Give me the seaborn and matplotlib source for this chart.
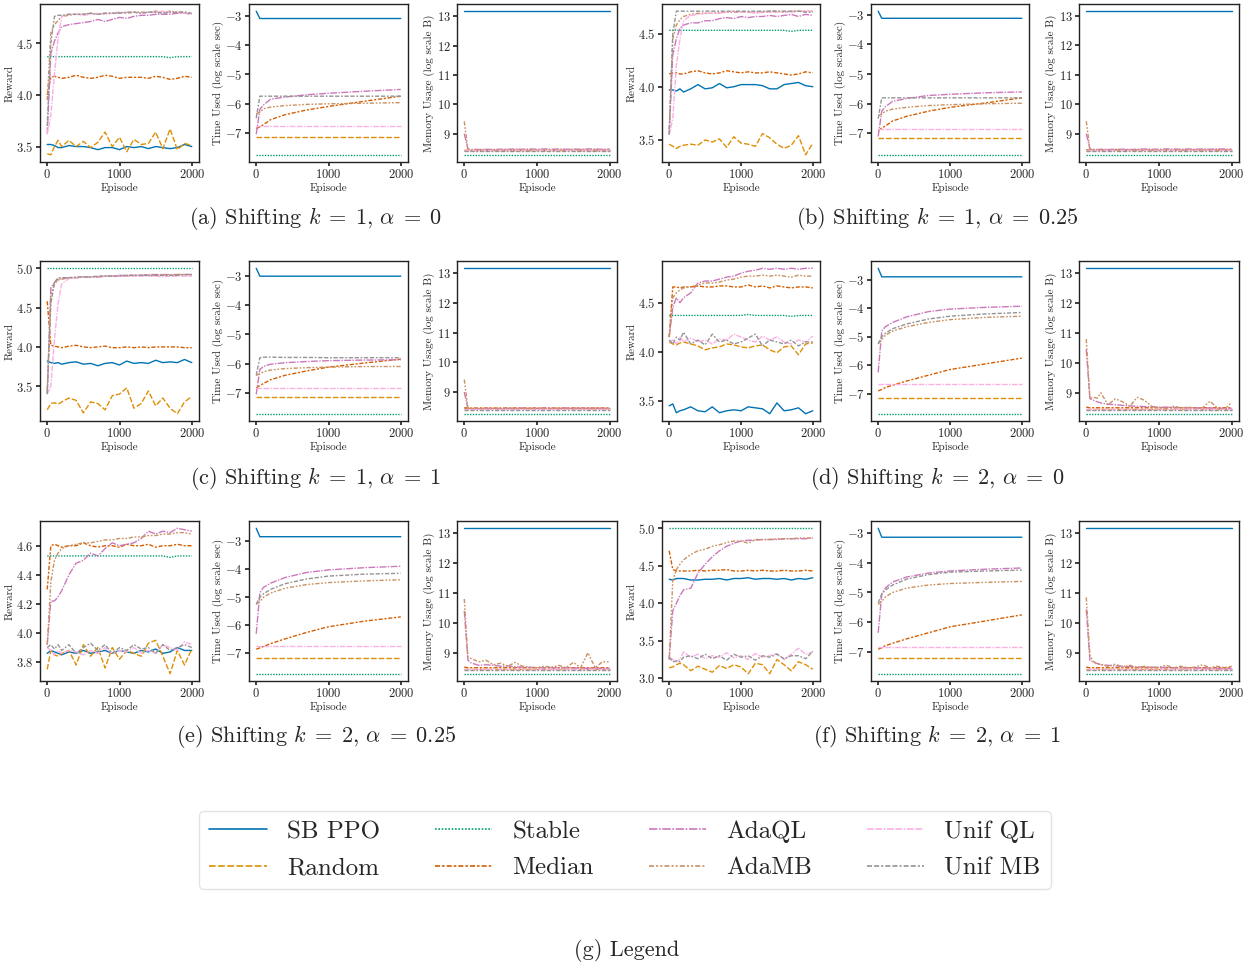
import matplotlib as mpl
import matplotlib.pyplot as plt
import pandas as pd
import seaborn as sns
from matplotlib.ticker import MultipleLocator

# ---------------------------------------------------------------------------
# style: seaborn ticks + Computer Modern look (cmr10 ships with matplotlib)
# ---------------------------------------------------------------------------
sns.set_theme(style="ticks")
mpl.rcParams.update({
    "font.family": "serif",
    "font.serif": ["cmr10", "DejaVu Serif"],
    "mathtext.fontset": "cm",
    "axes.formatter.use_mathtext": True,
    "xtick.labelsize": 9,
    "ytick.labelsize": 9,
    "axes.labelsize": 8,
    "axes.labelpad": 1.0,
    "axes.linewidth": 1.0,
    "xtick.major.size": 3,
    "ytick.major.size": 3,
    "xtick.major.pad": 1.5,
    "ytick.major.pad": 1.5,
})

METHODS = ["SB PPO", "Random", "Stable", "Median", "AdaQL", "AdaMB", "Unif QL", "Unif MB"]
PALETTE = sns.color_palette("colorblind", n_colors=len(METHODS))

EPISODES = [0, 50, 100, 150, 200, 300, 400, 500, 600, 700, 800, 900, 1000,
            1100, 1200, 1300, 1400, 1500, 1600, 1700, 1800, 1900, 2000]
EPISODES_TIME = [0, 50, 100, 200, 400, 700, 1000, 1500, 2000]

# ---------------------------------------------------------------------------
# reward curves
# ---------------------------------------------------------------------------
REWARD_A = {
    "SB PPO": [3.52, 3.52, 3.51, 3.49, 3.49, 3.51, 3.50, 3.50, 3.49, 3.47, 3.49, 3.49, 3.47, 3.50, 3.49, 3.50, 3.48, 3.50, 3.49, 3.48, 3.49, 3.52, 3.50],
    "Random": [3.43, 3.42, 3.50, 3.56, 3.50, 3.56, 3.50, 3.55, 3.49, 3.54, 3.64, 3.50, 3.59, 3.45, 3.57, 3.52, 3.53, 3.64, 3.48, 3.67, 3.47, 3.53, 3.51],
    "Stable": [4.37, 4.37, 4.37, 4.37, 4.37, 4.37, 4.37, 4.37, 4.37, 4.37, 4.37, 4.37, 4.37, 4.37, 4.37, 4.37, 4.37, 4.37, 4.37, 4.36, 4.37, 4.37, 4.37],
    "Median": [4.00, 4.17, 4.18, 4.17, 4.16, 4.17, 4.19, 4.17, 4.16, 4.17, 4.19, 4.18, 4.16, 4.17, 4.17, 4.17, 4.16, 4.18, 4.17, 4.15, 4.16, 4.18, 4.17],
    "AdaQL": [3.62, 4.40, 4.52, 4.60, 4.66, 4.68, 4.69, 4.70, 4.71, 4.73, 4.71, 4.73, 4.75, 4.74, 4.76, 4.77, 4.77, 4.78, 4.78, 4.78, 4.79, 4.79, 4.78],
    "AdaMB": [3.95, 4.60, 4.68, 4.72, 4.76, 4.77, 4.78, 4.78, 4.79, 4.78, 4.79, 4.79, 4.80, 4.79, 4.80, 4.80, 4.80, 4.81, 4.80, 4.81, 4.80, 4.80, 4.79],
    "Unif QL": [3.62, 3.80, 4.20, 4.55, 4.76, 4.78, 4.78, 4.77, 4.78, 4.79, 4.78, 4.79, 4.79, 4.80, 4.80, 4.79, 4.80, 4.80, 4.81, 4.80, 4.80, 4.79, 4.79],
    "Unif MB": [3.70, 4.50, 4.76, 4.77, 4.77, 4.78, 4.78, 4.78, 4.79, 4.78, 4.79, 4.79, 4.79, 4.80, 4.80, 4.79, 4.80, 4.80, 4.79, 4.80, 4.80, 4.80, 4.79],
}
REWARD_B = {
    "SB PPO": [3.97, 3.97, 3.96, 3.98, 3.95, 3.98, 4.02, 3.98, 3.99, 4.03, 3.99, 4.00, 4.02, 4.02, 4.02, 4.01, 3.98, 3.98, 4.02, 4.03, 4.04, 4.01, 4.00],
    "Random": [3.46, 3.44, 3.42, 3.44, 3.45, 3.46, 3.45, 3.50, 3.48, 3.51, 3.43, 3.53, 3.47, 3.46, 3.44, 3.56, 3.52, 3.46, 3.42, 3.45, 3.54, 3.36, 3.47],
    "Stable": [4.53, 4.53, 4.53, 4.53, 4.53, 4.53, 4.53, 4.53, 4.53, 4.53, 4.53, 4.53, 4.53, 4.53, 4.53, 4.53, 4.53, 4.53, 4.53, 4.52, 4.53, 4.53, 4.53],
    "Median": [4.12, 4.13, 4.13, 4.12, 4.12, 4.14, 4.15, 4.13, 4.12, 4.13, 4.15, 4.14, 4.13, 4.14, 4.13, 4.13, 4.14, 4.13, 4.12, 4.11, 4.12, 4.14, 4.13],
    "AdaQL": [3.55, 4.30, 4.45, 4.55, 4.58, 4.60, 4.60, 4.62, 4.62, 4.64, 4.65, 4.64, 4.66, 4.65, 4.66, 4.66, 4.67, 4.66, 4.67, 4.68, 4.66, 4.68, 4.67],
    "AdaMB": [3.60, 4.45, 4.58, 4.63, 4.66, 4.68, 4.69, 4.69, 4.69, 4.70, 4.70, 4.70, 4.70, 4.70, 4.70, 4.70, 4.71, 4.71, 4.70, 4.71, 4.71, 4.71, 4.71],
    "Unif QL": [3.55, 3.70, 4.20, 4.45, 4.62, 4.67, 4.68, 4.69, 4.69, 4.69, 4.70, 4.71, 4.70, 4.70, 4.69, 4.70, 4.70, 4.70, 4.71, 4.70, 4.71, 4.71, 4.71],
    "Unif MB": [3.55, 4.50, 4.71, 4.71, 4.71, 4.71, 4.71, 4.71, 4.71, 4.71, 4.71, 4.71, 4.71, 4.71, 4.71, 4.71, 4.71, 4.71, 4.71, 4.71, 4.71, 4.70, 4.70],
}
REWARD_C = {
    "SB PPO": [3.82, 3.80, 3.79, 3.80, 3.78, 3.80, 3.81, 3.78, 3.79, 3.76, 3.79, 3.80, 3.77, 3.82, 3.79, 3.80, 3.79, 3.83, 3.80, 3.81, 3.80, 3.84, 3.80],
    "Random": [3.20, 3.28, 3.29, 3.27, 3.30, 3.35, 3.32, 3.16, 3.30, 3.28, 3.20, 3.38, 3.40, 3.48, 3.22, 3.28, 3.44, 3.25, 3.35, 3.22, 3.15, 3.30, 3.37],
    "Stable": [5.00, 5.00, 5.00, 5.00, 5.00, 5.00, 5.00, 5.00, 5.00, 5.00, 5.00, 5.00, 5.00, 5.00, 5.00, 5.00, 5.00, 5.00, 5.00, 5.00, 5.00, 5.00, 5.00],
    "Median": [4.58, 4.02, 4.01, 4.00, 3.99, 4.01, 4.02, 4.00, 3.99, 4.00, 4.01, 3.99, 3.99, 4.00, 3.99, 4.00, 3.99, 4.00, 4.00, 4.00, 4.00, 3.99, 3.99],
    "AdaQL": [3.40, 4.75, 4.82, 4.86, 4.87, 4.88, 4.88, 4.89, 4.89, 4.89, 4.90, 4.90, 4.91, 4.91, 4.91, 4.91, 4.92, 4.92, 4.92, 4.92, 4.92, 4.92, 4.92],
    "AdaMB": [3.45, 4.65, 4.80, 4.85, 4.86, 4.88, 4.88, 4.89, 4.89, 4.89, 4.90, 4.90, 4.90, 4.90, 4.91, 4.91, 4.91, 4.91, 4.92, 4.91, 4.92, 4.92, 4.92],
    "Unif QL": [3.40, 3.50, 4.10, 4.55, 4.80, 4.87, 4.88, 4.89, 4.89, 4.89, 4.90, 4.90, 4.90, 4.90, 4.90, 4.90, 4.90, 4.90, 4.89, 4.90, 4.90, 4.90, 4.90],
    "Unif MB": [3.40, 4.55, 4.82, 4.88, 4.88, 4.88, 4.89, 4.89, 4.89, 4.90, 4.90, 4.90, 4.90, 4.91, 4.91, 4.91, 4.91, 4.91, 4.91, 4.91, 4.91, 4.92, 4.92],
}
REWARD_D = {
    "SB PPO": [3.45, 3.47, 3.38, 3.40, 3.41, 3.44, 3.40, 3.39, 3.44, 3.38, 3.40, 3.41, 3.40, 3.44, 3.43, 3.42, 3.37, 3.48, 3.40, 3.41, 3.43, 3.37, 3.40],
    "Random": [4.10, 4.08, 4.07, 4.09, 4.10, 4.08, 4.06, 4.02, 4.04, 4.05, 4.08, 4.07, 4.05, 4.04, 4.06, 4.07, 4.02, 3.99, 4.05, 4.06, 3.97, 4.08, 4.09],
    "Stable": [4.37, 4.37, 4.37, 4.37, 4.37, 4.37, 4.37, 4.37, 4.37, 4.37, 4.37, 4.37, 4.37, 4.38, 4.37, 4.37, 4.37, 4.37, 4.37, 4.36, 4.37, 4.37, 4.37],
    "Median": [4.15, 4.66, 4.66, 4.65, 4.66, 4.66, 4.67, 4.66, 4.66, 4.67, 4.67, 4.66, 4.66, 4.68, 4.66, 4.67, 4.65, 4.67, 4.66, 4.65, 4.66, 4.66, 4.65],
    "AdaQL": [4.15, 4.45, 4.55, 4.50, 4.55, 4.60, 4.70, 4.72, 4.72, 4.74, 4.76, 4.77, 4.80, 4.82, 4.83, 4.85, 4.84, 4.85, 4.84, 4.85, 4.84, 4.85, 4.85],
    "AdaMB": [4.15, 4.55, 4.60, 4.63, 4.65, 4.66, 4.68, 4.70, 4.70, 4.71, 4.73, 4.74, 4.76, 4.77, 4.77, 4.78, 4.77, 4.78, 4.77, 4.76, 4.78, 4.77, 4.77],
    "Unif QL": [4.10, 4.12, 4.08, 4.15, 4.10, 4.14, 4.10, 4.12, 4.08, 4.13, 4.12, 4.18, 4.15, 4.12, 4.10, 4.16, 4.12, 4.15, 4.10, 4.08, 4.12, 4.10, 4.16],
    "Unif MB": [4.12, 4.08, 4.15, 4.12, 4.20, 4.08, 4.12, 4.07, 4.18, 4.10, 4.12, 4.08, 4.10, 4.14, 4.18, 4.06, 4.12, 4.10, 4.08, 4.12, 4.06, 4.10, 4.10],
}
REWARD_E = {
    "SB PPO": [3.86, 3.88, 3.87, 3.86, 3.85, 3.87, 3.86, 3.88, 3.86, 3.87, 3.88, 3.86, 3.88, 3.87, 3.86, 3.88, 3.87, 3.89, 3.86, 3.87, 3.90, 3.88, 3.88],
    "Random": [3.75, 3.88, 3.85, 3.84, 3.86, 3.88, 3.78, 3.92, 3.84, 3.90, 3.76, 3.90, 3.82, 3.88, 3.86, 3.84, 3.93, 3.95, 3.84, 3.72, 3.88, 3.78, 3.89],
    "Stable": [4.53, 4.53, 4.53, 4.53, 4.53, 4.53, 4.53, 4.53, 4.53, 4.53, 4.53, 4.53, 4.53, 4.53, 4.53, 4.53, 4.53, 4.53, 4.53, 4.52, 4.53, 4.53, 4.53],
    "Median": [4.30, 4.60, 4.61, 4.60, 4.59, 4.60, 4.60, 4.62, 4.60, 4.59, 4.60, 4.60, 4.59, 4.61, 4.60, 4.60, 4.61, 4.59, 4.60, 4.60, 4.61, 4.60, 4.60],
    "AdaQL": [3.92, 4.22, 4.22, 4.25, 4.29, 4.40, 4.48, 4.50, 4.55, 4.53, 4.58, 4.62, 4.60, 4.61, 4.62, 4.65, 4.70, 4.68, 4.70, 4.69, 4.72, 4.71, 4.70],
    "AdaMB": [3.92, 4.35, 4.50, 4.55, 4.58, 4.60, 4.61, 4.62, 4.62, 4.63, 4.64, 4.64, 4.65, 4.65, 4.66, 4.66, 4.67, 4.67, 4.68, 4.68, 4.69, 4.69, 4.68],
    "Unif QL": [3.90, 3.88, 3.85, 3.88, 3.86, 3.88, 3.87, 3.85, 3.88, 3.86, 3.90, 3.86, 3.88, 3.87, 3.90, 3.86, 3.88, 3.86, 3.92, 3.90, 3.88, 3.94, 3.92],
    "Unif MB": [3.90, 3.92, 3.89, 3.92, 3.88, 3.92, 3.86, 3.90, 3.93, 3.88, 3.92, 3.86, 3.90, 3.88, 3.92, 3.89, 3.90, 3.86, 3.92, 3.88, 3.90, 3.92, 3.90],
}
REWARD_F = {
    "SB PPO": [4.32, 4.31, 4.33, 4.33, 4.33, 4.31, 4.31, 4.32, 4.32, 4.33, 4.31, 4.33, 4.33, 4.34, 4.32, 4.33, 4.33, 4.32, 4.33, 4.31, 4.33, 4.32, 4.34],
    "Random": [3.14, 3.15, 3.18, 3.20, 3.18, 3.10, 3.16, 3.12, 3.08, 3.17, 3.13, 3.18, 3.15, 3.06, 3.20, 3.18, 3.06, 3.25, 3.18, 3.10, 3.22, 3.18, 3.12],
    "Stable": [5.00, 5.00, 5.00, 5.00, 5.00, 5.00, 5.00, 5.00, 5.00, 5.00, 5.00, 5.00, 5.00, 5.00, 5.00, 5.00, 5.00, 5.00, 5.00, 5.00, 5.00, 5.00, 5.00],
    "Median": [4.70, 4.45, 4.43, 4.43, 4.43, 4.43, 4.44, 4.43, 4.44, 4.44, 4.45, 4.43, 4.43, 4.44, 4.43, 4.44, 4.43, 4.43, 4.44, 4.43, 4.43, 4.44, 4.43],
    "AdaQL": [3.25, 3.90, 4.00, 4.10, 4.18, 4.20, 4.40, 4.52, 4.62, 4.70, 4.76, 4.80, 4.83, 4.84, 4.84, 4.85, 4.85, 4.85, 4.86, 4.86, 4.86, 4.86, 4.87],
    "AdaMB": [3.25, 4.30, 4.45, 4.52, 4.58, 4.65, 4.70, 4.72, 4.76, 4.78, 4.81, 4.83, 4.83, 4.80, 4.85, 4.85, 4.85, 4.86, 4.86, 4.86, 4.87, 4.87, 4.87],
    "Unif QL": [3.28, 3.25, 3.22, 3.25, 3.35, 3.28, 3.32, 3.26, 3.30, 3.28, 3.34, 3.27, 3.30, 3.25, 3.33, 3.28, 3.30, 3.33, 3.25, 3.32, 3.40, 3.32, 3.35],
    "Unif MB": [3.28, 3.22, 3.23, 3.22, 3.28, 3.30, 3.26, 3.32, 3.26, 3.30, 3.24, 3.32, 3.28, 3.30, 3.24, 3.30, 3.28, 3.32, 3.26, 3.30, 3.30, 3.26, 3.36],
}

# ---------------------------------------------------------------------------
# time used, log scale sec (EPISODES_TIME grid)
# ---------------------------------------------------------------------------
TIME_A = {
    "SB PPO": [-2.85, -3.10, -3.10, -3.10, -3.10, -3.10, -3.10, -3.10, -3.10],
    "Random": [-7.15, -7.15, -7.15, -7.15, -7.15, -7.15, -7.15, -7.15, -7.15],
    "Stable": [-7.75, -7.75, -7.75, -7.75, -7.75, -7.75, -7.75, -7.75, -7.75],
    "Median": [-6.85, -6.80, -6.72, -6.55, -6.38, -6.22, -6.10, -5.92, -5.75],
    "AdaQL": [-7.05, -6.20, -6.05, -5.85, -5.78, -5.70, -5.65, -5.58, -5.52],
    "AdaMB": [-6.35, -6.30, -6.18, -6.12, -6.07, -6.03, -6.01, -5.99, -5.97],
    "Unif QL": [-6.78, -6.78, -6.78, -6.78, -6.78, -6.78, -6.78, -6.78, -6.78],
    "Unif MB": [-6.50, -5.75, -5.75, -5.75, -5.75, -5.75, -5.75, -5.75, -5.75],
}
TIME_B = {
    "SB PPO": [-2.88, -3.12, -3.12, -3.12, -3.12, -3.12, -3.12, -3.12, -3.12],
    "Random": [-7.15, -7.15, -7.15, -7.15, -7.15, -7.15, -7.15, -7.15, -7.15],
    "Stable": [-7.72, -7.72, -7.72, -7.72, -7.72, -7.72, -7.72, -7.72, -7.72],
    "Median": [-6.90, -6.82, -6.75, -6.58, -6.42, -6.25, -6.12, -5.97, -5.80],
    "AdaQL": [-7.10, -6.25, -6.10, -5.92, -5.82, -5.72, -5.68, -5.63, -5.60],
    "AdaMB": [-6.40, -6.35, -6.25, -6.18, -6.12, -6.06, -6.03, -6.00, -5.98],
    "Unif QL": [-6.85, -6.85, -6.85, -6.85, -6.85, -6.85, -6.85, -6.85, -6.85],
    "Unif MB": [-6.50, -5.80, -5.80, -5.80, -5.80, -5.80, -5.80, -5.80, -5.80],
}
TIME_C = {
    "SB PPO": [-2.75, -3.02, -3.02, -3.02, -3.02, -3.02, -3.02, -3.02, -3.02],
    "Random": [-7.14, -7.14, -7.14, -7.14, -7.14, -7.14, -7.14, -7.14, -7.14],
    "Stable": [-7.71, -7.71, -7.71, -7.71, -7.71, -7.71, -7.71, -7.71, -7.71],
    "Median": [-6.83, -6.75, -6.68, -6.55, -6.40, -6.25, -6.12, -5.98, -5.85],
    "AdaQL": [-7.05, -6.20, -6.10, -6.02, -5.97, -5.93, -5.90, -5.88, -5.87],
    "AdaMB": [-6.40, -6.35, -6.28, -6.22, -6.17, -6.14, -6.12, -6.10, -6.10],
    "Unif QL": [-6.82, -6.82, -6.82, -6.82, -6.82, -6.82, -6.82, -6.82, -6.82],
    "Unif MB": [-6.40, -5.80, -5.78, -5.78, -5.79, -5.79, -5.80, -5.80, -5.80],
}
TIME_D = {
    "SB PPO": [-2.60, -2.90, -2.90, -2.90, -2.90, -2.90, -2.90, -2.90, -2.90],
    "Random": [-7.15, -7.15, -7.15, -7.15, -7.15, -7.15, -7.15, -7.15, -7.15],
    "Stable": [-7.70, -7.70, -7.70, -7.70, -7.70, -7.70, -7.70, -7.70, -7.70],
    "Median": [-6.90, -6.85, -6.78, -6.70, -6.55, -6.35, -6.15, -5.95, -5.75],
    "AdaQL": [-6.25, -4.80, -4.65, -4.50, -4.30, -4.12, -4.03, -3.97, -3.93],
    "AdaMB": [-5.25, -5.10, -4.95, -4.80, -4.65, -4.50, -4.40, -4.32, -4.28],
    "Unif QL": [-6.65, -6.65, -6.65, -6.65, -6.65, -6.65, -6.65, -6.65, -6.65],
    "Unif MB": [-5.25, -5.00, -4.88, -4.72, -4.55, -4.38, -4.28, -4.20, -4.15],
}
TIME_E = {
    "SB PPO": [-2.55, -2.85, -2.85, -2.85, -2.85, -2.85, -2.85, -2.85, -2.85],
    "Random": [-7.15, -7.15, -7.15, -7.15, -7.15, -7.15, -7.15, -7.15, -7.15],
    "Stable": [-7.72, -7.72, -7.72, -7.72, -7.72, -7.72, -7.72, -7.72, -7.72],
    "Median": [-6.85, -6.80, -6.75, -6.65, -6.48, -6.25, -6.05, -5.85, -5.70],
    "AdaQL": [-6.30, -4.85, -4.65, -4.50, -4.30, -4.12, -4.03, -3.95, -3.90],
    "AdaMB": [-5.25, -5.15, -5.00, -4.85, -4.68, -4.55, -4.48, -4.42, -4.38],
    "Unif QL": [-6.75, -6.75, -6.75, -6.75, -6.75, -6.75, -6.75, -6.75, -6.75],
    "Unif MB": [-5.25, -5.00, -4.88, -4.72, -4.52, -4.35, -4.25, -4.18, -4.15],
}
TIME_F = {
    "SB PPO": [-2.85, -3.15, -3.15, -3.15, -3.15, -3.15, -3.15, -3.15, -3.15],
    "Random": [-7.18, -7.18, -7.18, -7.18, -7.18, -7.18, -7.18, -7.18, -7.18],
    "Stable": [-7.72, -7.72, -7.72, -7.72, -7.72, -7.72, -7.72, -7.72, -7.72],
    "Median": [-6.90, -6.85, -6.78, -6.70, -6.55, -6.35, -6.15, -5.95, -5.75],
    "AdaQL": [-6.35, -5.05, -4.85, -4.65, -4.48, -4.35, -4.28, -4.22, -4.18],
    "AdaMB": [-5.40, -5.30, -5.15, -5.00, -4.85, -4.75, -4.70, -4.66, -4.63],
    "Unif QL": [-6.82, -6.82, -6.82, -6.82, -6.82, -6.82, -6.82, -6.82, -6.82],
    "Unif MB": [-5.35, -5.05, -4.92, -4.75, -4.55, -4.40, -4.32, -4.28, -4.25],
}

# ---------------------------------------------------------------------------
# memory usage, log scale B (EPISODES grid)
# ---------------------------------------------------------------------------
MEMORY_A = {
    "SB PPO": [13.17, 13.17, 13.17, 13.17, 13.17, 13.17, 13.17, 13.17, 13.17, 13.17, 13.17, 13.17, 13.17, 13.17, 13.17, 13.17, 13.17, 13.17, 13.17, 13.17, 13.17, 13.17, 13.17],
    "Random": [8.45, 8.45, 8.45, 8.45, 8.45, 8.45, 8.45, 8.45, 8.45, 8.45, 8.45, 8.45, 8.45, 8.45, 8.45, 8.45, 8.45, 8.45, 8.45, 8.45, 8.45, 8.45, 8.45],
    "Stable": [8.28, 8.28, 8.28, 8.28, 8.28, 8.28, 8.28, 8.28, 8.28, 8.28, 8.28, 8.28, 8.28, 8.28, 8.28, 8.28, 8.28, 8.28, 8.28, 8.28, 8.28, 8.28, 8.28],
    "Median": [8.44, 8.44, 8.44, 8.44, 8.44, 8.44, 8.44, 8.44, 8.44, 8.44, 8.44, 8.44, 8.44, 8.44, 8.44, 8.44, 8.44, 8.44, 8.44, 8.44, 8.44, 8.44, 8.44],
    "AdaQL": [9.00, 8.47, 8.46, 8.47, 8.46, 8.47, 8.46, 8.47, 8.47, 8.48, 8.47, 8.48, 8.47, 8.48, 8.47, 8.48, 8.47, 8.48, 8.47, 8.48, 8.48, 8.47, 8.48],
    "AdaMB": [9.42, 8.46, 8.45, 8.45, 8.45, 8.45, 8.45, 8.45, 8.45, 8.45, 8.45, 8.45, 8.45, 8.45, 8.45, 8.45, 8.45, 8.45, 8.45, 8.45, 8.45, 8.45, 8.45],
    "Unif QL": [8.45, 8.45, 8.45, 8.45, 8.45, 8.45, 8.45, 8.45, 8.45, 8.45, 8.45, 8.45, 8.45, 8.45, 8.45, 8.45, 8.45, 8.45, 8.45, 8.45, 8.45, 8.45, 8.45],
    "Unif MB": [8.42, 8.42, 8.42, 8.42, 8.42, 8.42, 8.42, 8.42, 8.42, 8.42, 8.42, 8.42, 8.42, 8.42, 8.42, 8.42, 8.42, 8.42, 8.42, 8.42, 8.42, 8.42, 8.42],
}
MEMORY_B = {
    "SB PPO": [13.16, 13.16, 13.16, 13.16, 13.16, 13.16, 13.16, 13.16, 13.16, 13.16, 13.16, 13.16, 13.16, 13.16, 13.16, 13.16, 13.16, 13.16, 13.16, 13.16, 13.16, 13.16, 13.16],
    "Random": [8.45, 8.45, 8.45, 8.45, 8.45, 8.45, 8.45, 8.45, 8.45, 8.45, 8.45, 8.45, 8.45, 8.45, 8.45, 8.45, 8.45, 8.45, 8.45, 8.45, 8.45, 8.45, 8.45],
    "Stable": [8.28, 8.28, 8.28, 8.28, 8.28, 8.28, 8.28, 8.28, 8.28, 8.28, 8.28, 8.28, 8.28, 8.28, 8.28, 8.28, 8.28, 8.28, 8.28, 8.28, 8.28, 8.28, 8.28],
    "Median": [8.45, 8.44, 8.44, 8.44, 8.44, 8.44, 8.44, 8.44, 8.44, 8.44, 8.44, 8.44, 8.44, 8.44, 8.44, 8.44, 8.44, 8.44, 8.44, 8.44, 8.44, 8.44, 8.44],
    "AdaQL": [9.00, 8.47, 8.47, 8.46, 8.47, 8.46, 8.47, 8.47, 8.46, 8.47, 8.48, 8.47, 8.47, 8.48, 8.48, 8.47, 8.48, 8.47, 8.48, 8.47, 8.48, 8.48, 8.47],
    "AdaMB": [9.42, 8.46, 8.45, 8.45, 8.45, 8.45, 8.45, 8.45, 8.45, 8.45, 8.45, 8.45, 8.45, 8.45, 8.45, 8.45, 8.45, 8.45, 8.45, 8.45, 8.45, 8.45, 8.45],
    "Unif QL": [8.45, 8.45, 8.45, 8.45, 8.45, 8.45, 8.45, 8.45, 8.45, 8.45, 8.45, 8.45, 8.45, 8.45, 8.45, 8.45, 8.45, 8.45, 8.45, 8.45, 8.45, 8.45, 8.45],
    "Unif MB": [8.42, 8.42, 8.42, 8.42, 8.42, 8.42, 8.42, 8.42, 8.42, 8.42, 8.42, 8.42, 8.42, 8.42, 8.42, 8.42, 8.42, 8.42, 8.42, 8.42, 8.42, 8.42, 8.42],
}
MEMORY_C = {
    "SB PPO": [13.16, 13.16, 13.16, 13.16, 13.16, 13.16, 13.16, 13.16, 13.16, 13.16, 13.16, 13.16, 13.16, 13.16, 13.16, 13.16, 13.16, 13.16, 13.16, 13.16, 13.16, 13.16, 13.16],
    "Random": [8.45, 8.45, 8.45, 8.45, 8.45, 8.45, 8.45, 8.45, 8.45, 8.45, 8.45, 8.45, 8.45, 8.45, 8.45, 8.45, 8.45, 8.45, 8.45, 8.45, 8.45, 8.45, 8.45],
    "Stable": [8.27, 8.27, 8.27, 8.27, 8.27, 8.27, 8.27, 8.27, 8.27, 8.27, 8.27, 8.27, 8.27, 8.27, 8.27, 8.27, 8.27, 8.27, 8.27, 8.27, 8.27, 8.27, 8.27],
    "Median": [8.47, 8.46, 8.46, 8.46, 8.46, 8.46, 8.46, 8.46, 8.46, 8.46, 8.46, 8.46, 8.46, 8.46, 8.46, 8.46, 8.46, 8.46, 8.46, 8.46, 8.46, 8.46, 8.46],
    "AdaQL": [9.00, 8.45, 8.44, 8.45, 8.44, 8.45, 8.45, 8.44, 8.45, 8.45, 8.46, 8.45, 8.45, 8.46, 8.45, 8.45, 8.46, 8.45, 8.46, 8.45, 8.46, 8.45, 8.45],
    "AdaMB": [9.42, 8.45, 8.44, 8.44, 8.44, 8.44, 8.44, 8.44, 8.44, 8.44, 8.44, 8.44, 8.44, 8.44, 8.44, 8.44, 8.44, 8.44, 8.44, 8.44, 8.44, 8.44, 8.44],
    "Unif QL": [8.44, 8.44, 8.44, 8.44, 8.44, 8.44, 8.44, 8.44, 8.44, 8.44, 8.44, 8.44, 8.44, 8.44, 8.44, 8.44, 8.44, 8.44, 8.44, 8.44, 8.44, 8.44, 8.44],
    "Unif MB": [8.41, 8.41, 8.41, 8.41, 8.41, 8.41, 8.41, 8.41, 8.41, 8.41, 8.41, 8.41, 8.41, 8.41, 8.41, 8.41, 8.41, 8.41, 8.41, 8.41, 8.41, 8.41, 8.41],
}
MEMORY_D = {
    "SB PPO": [13.17, 13.17, 13.17, 13.17, 13.17, 13.17, 13.17, 13.17, 13.17, 13.17, 13.17, 13.17, 13.17, 13.17, 13.17, 13.17, 13.17, 13.17, 13.17, 13.17, 13.17, 13.17, 13.17],
    "Random": [8.45, 8.45, 8.45, 8.45, 8.45, 8.45, 8.45, 8.45, 8.45, 8.45, 8.45, 8.45, 8.45, 8.45, 8.45, 8.45, 8.45, 8.45, 8.45, 8.45, 8.45, 8.45, 8.45],
    "Stable": [8.30, 8.30, 8.30, 8.30, 8.30, 8.30, 8.30, 8.30, 8.30, 8.30, 8.30, 8.30, 8.30, 8.30, 8.30, 8.30, 8.30, 8.30, 8.30, 8.30, 8.30, 8.30, 8.30],
    "Median": [8.52, 8.50, 8.50, 8.50, 8.50, 8.50, 8.50, 8.50, 8.50, 8.50, 8.50, 8.50, 8.50, 8.50, 8.50, 8.50, 8.50, 8.50, 8.50, 8.50, 8.50, 8.50, 8.50],
    "AdaQL": [10.45, 8.80, 8.75, 8.70, 8.66, 8.62, 8.60, 8.58, 8.56, 8.55, 8.54, 8.53, 8.52, 8.52, 8.51, 8.50, 8.50, 8.50, 8.49, 8.49, 8.48, 8.48, 8.48],
    "AdaMB": [10.80, 8.80, 8.85, 8.82, 9.00, 8.60, 8.80, 8.70, 8.55, 8.85, 8.75, 8.55, 8.50, 8.48, 8.55, 8.50, 8.52, 8.48, 8.50, 8.72, 8.50, 8.45, 8.68],
    "Unif QL": [8.47, 8.47, 8.47, 8.47, 8.47, 8.47, 8.47, 8.47, 8.47, 8.47, 8.47, 8.47, 8.47, 8.47, 8.47, 8.47, 8.47, 8.47, 8.47, 8.47, 8.47, 8.47, 8.47],
    "Unif MB": [8.42, 8.42, 8.42, 8.42, 8.42, 8.42, 8.42, 8.42, 8.42, 8.42, 8.42, 8.42, 8.42, 8.42, 8.42, 8.42, 8.42, 8.42, 8.42, 8.42, 8.42, 8.42, 8.42],
}
MEMORY_E = {
    "SB PPO": [13.16, 13.16, 13.16, 13.16, 13.16, 13.16, 13.16, 13.16, 13.16, 13.16, 13.16, 13.16, 13.16, 13.16, 13.16, 13.16, 13.16, 13.16, 13.16, 13.16, 13.16, 13.16, 13.16],
    "Random": [8.45, 8.45, 8.45, 8.45, 8.45, 8.45, 8.45, 8.45, 8.45, 8.45, 8.45, 8.45, 8.45, 8.45, 8.45, 8.45, 8.45, 8.45, 8.45, 8.45, 8.45, 8.45, 8.45],
    "Stable": [8.30, 8.30, 8.30, 8.30, 8.30, 8.30, 8.30, 8.30, 8.30, 8.30, 8.30, 8.30, 8.30, 8.30, 8.30, 8.30, 8.30, 8.30, 8.30, 8.30, 8.30, 8.30, 8.30],
    "Median": [8.52, 8.50, 8.50, 8.50, 8.50, 8.50, 8.50, 8.50, 8.50, 8.50, 8.50, 8.50, 8.50, 8.50, 8.50, 8.50, 8.50, 8.50, 8.50, 8.50, 8.50, 8.50, 8.50],
    "AdaQL": [10.40, 8.75, 8.65, 8.62, 8.58, 8.60, 8.58, 8.55, 8.56, 8.53, 8.52, 8.51, 8.51, 8.50, 8.50, 8.50, 8.50, 8.49, 8.49, 8.48, 8.49, 8.48, 8.48],
    "AdaMB": [10.80, 8.85, 8.80, 8.75, 8.70, 8.75, 8.60, 8.65, 8.55, 8.68, 8.55, 8.52, 8.50, 8.55, 8.52, 8.58, 8.50, 8.68, 8.50, 9.00, 8.50, 8.70, 8.70],
    "Unif QL": [8.47, 8.47, 8.47, 8.47, 8.47, 8.47, 8.47, 8.47, 8.47, 8.47, 8.47, 8.47, 8.47, 8.47, 8.47, 8.47, 8.47, 8.47, 8.47, 8.47, 8.47, 8.47, 8.47],
    "Unif MB": [8.42, 8.42, 8.42, 8.42, 8.42, 8.42, 8.42, 8.42, 8.42, 8.42, 8.42, 8.42, 8.42, 8.42, 8.42, 8.42, 8.42, 8.42, 8.42, 8.42, 8.42, 8.42, 8.42],
}
MEMORY_F = {
    "SB PPO": [13.16, 13.16, 13.16, 13.16, 13.16, 13.16, 13.16, 13.16, 13.16, 13.16, 13.16, 13.16, 13.16, 13.16, 13.16, 13.16, 13.16, 13.16, 13.16, 13.16, 13.16, 13.16, 13.16],
    "Random": [8.45, 8.45, 8.45, 8.45, 8.45, 8.45, 8.45, 8.45, 8.45, 8.45, 8.45, 8.45, 8.45, 8.45, 8.45, 8.45, 8.45, 8.45, 8.45, 8.45, 8.45, 8.45, 8.45],
    "Stable": [8.30, 8.30, 8.30, 8.30, 8.30, 8.30, 8.30, 8.30, 8.30, 8.30, 8.30, 8.30, 8.30, 8.30, 8.30, 8.30, 8.30, 8.30, 8.30, 8.30, 8.30, 8.30, 8.30],
    "Median": [8.52, 8.50, 8.50, 8.50, 8.50, 8.50, 8.50, 8.50, 8.50, 8.50, 8.50, 8.50, 8.50, 8.50, 8.50, 8.50, 8.50, 8.50, 8.50, 8.50, 8.50, 8.50, 8.50],
    "AdaQL": [10.45, 8.75, 8.68, 8.64, 8.60, 8.58, 8.56, 8.55, 8.54, 8.53, 8.52, 8.52, 8.51, 8.51, 8.50, 8.50, 8.50, 8.49, 8.49, 8.49, 8.48, 8.48, 8.48],
    "AdaMB": [10.85, 8.90, 8.70, 8.65, 8.60, 8.55, 8.62, 8.52, 8.58, 8.50, 8.55, 8.50, 8.52, 8.58, 8.50, 8.55, 8.50, 8.52, 8.60, 8.50, 8.55, 8.50, 8.55],
    "Unif QL": [8.47, 8.47, 8.47, 8.47, 8.47, 8.47, 8.47, 8.47, 8.47, 8.47, 8.47, 8.47, 8.47, 8.47, 8.47, 8.47, 8.47, 8.47, 8.47, 8.47, 8.47, 8.47, 8.47],
    "Unif MB": [8.42, 8.42, 8.42, 8.42, 8.42, 8.42, 8.42, 8.42, 8.42, 8.42, 8.42, 8.42, 8.42, 8.42, 8.42, 8.42, 8.42, 8.42, 8.42, 8.42, 8.42, 8.42, 8.42],
}

CAPTIONS = [
    r"(a) Shifting $k\;=\;1,\,\alpha\;=\;0$",
    r"(b) Shifting $k\;=\;1,\,\alpha\;=\;0.25$",
    r"(c) Shifting $k\;=\;1,\,\alpha\;=\;1$",
    r"(d) Shifting $k\;=\;2,\,\alpha\;=\;0$",
    r"(e) Shifting $k\;=\;2,\,\alpha\;=\;0.25$",
    r"(f) Shifting $k\;=\;2,\,\alpha\;=\;1$",
]
PANELS = [
    (REWARD_A, TIME_A, MEMORY_A, 0.5),
    (REWARD_B, TIME_B, MEMORY_B, 0.5),
    (REWARD_C, TIME_C, MEMORY_C, 0.5),
    (REWARD_D, TIME_D, MEMORY_D, 0.5),
    (REWARD_E, TIME_E, MEMORY_E, 0.2),
    (REWARD_F, TIME_F, MEMORY_F, 0.5),
]


def long_frame(episodes, series):
    """wide dict -> long dataframe for sns.lineplot"""
    df = pd.DataFrame({"Episode": episodes, **series})
    return df.melt(id_vars="Episode", var_name="Method", value_name="Value")


# ---------------------------------------------------------------------------
# figure layout (pixel boxes of the original, 1251x969)
# ---------------------------------------------------------------------------
W, H = 1251, 969
fig = plt.figure(figsize=(W / 100, H / 100), dpi=100)

COLS_PX = [(40, 199), (249, 408), (457, 617), (662, 820), (871, 1029), (1079, 1239)]
ROWS_PX = [(4, 162), (261, 421), (521, 681)]
CAPTION_X = [316, 937]
CAPTION_Y = [218, 478, 737]
YLABELS = ["Reward", "Time Used (log scale sec)", "Memory Usage (log scale B)"]

legend_handles, legend_labels = None, None

for i, (reward, time_used, memory, reward_step) in enumerate(PANELS):
    row, side = divmod(i, 2)
    top, bottom = ROWS_PX[row]
    frames = [long_frame(EPISODES, reward),
              long_frame(EPISODES_TIME, time_used),
              long_frame(EPISODES, memory)]
    steps = [reward_step, 1, 1]
    for j, df in enumerate(frames):
        left, right = COLS_PX[3 * side + j]
        ax = fig.add_axes([left / W, 1 - bottom / H, (right - left) / W, (bottom - top) / H])
        sns.lineplot(data=df, x="Episode", y="Value", hue="Method", style="Method",
                     hue_order=METHODS, style_order=METHODS, palette=PALETTE,
                     estimator=None, errorbar=None, linewidth=1.0, ax=ax,
                     legend=(legend_handles is None))
        if legend_handles is None:
            legend_handles, legend_labels = ax.get_legend_handles_labels()
            ax.get_legend().remove()
        ax.set_xlabel("Episode")
        ax.set_ylabel(YLABELS[j])
        ax.set_xticks([0, 1000, 2000])
        ax.yaxis.set_major_locator(MultipleLocator(steps[j]))
        for sp in ax.spines.values():
            sp.set_color("#222222")

    fig.text(CAPTION_X[side] / W, 1 - CAPTION_Y[row] / H, CAPTIONS[i],
             ha="center", va="center", fontsize=16)

for h in legend_handles:
    h.set_linewidth(1.2)
fig.legend(legend_handles, legend_labels, loc="center", ncol=4,
           bbox_to_anchor=(625 / W, 1 - 850 / H), fontsize=18,
           handlelength=2.3, columnspacing=2.2, labelspacing=0.55,
           frameon=True, fancybox=True, edgecolor="#dddddd")
fig.text(627 / W, 1 - 950 / H, "(g) Legend", ha="center", va="center", fontsize=16)

fig.savefig("out.png", dpi=100, facecolor="white")
